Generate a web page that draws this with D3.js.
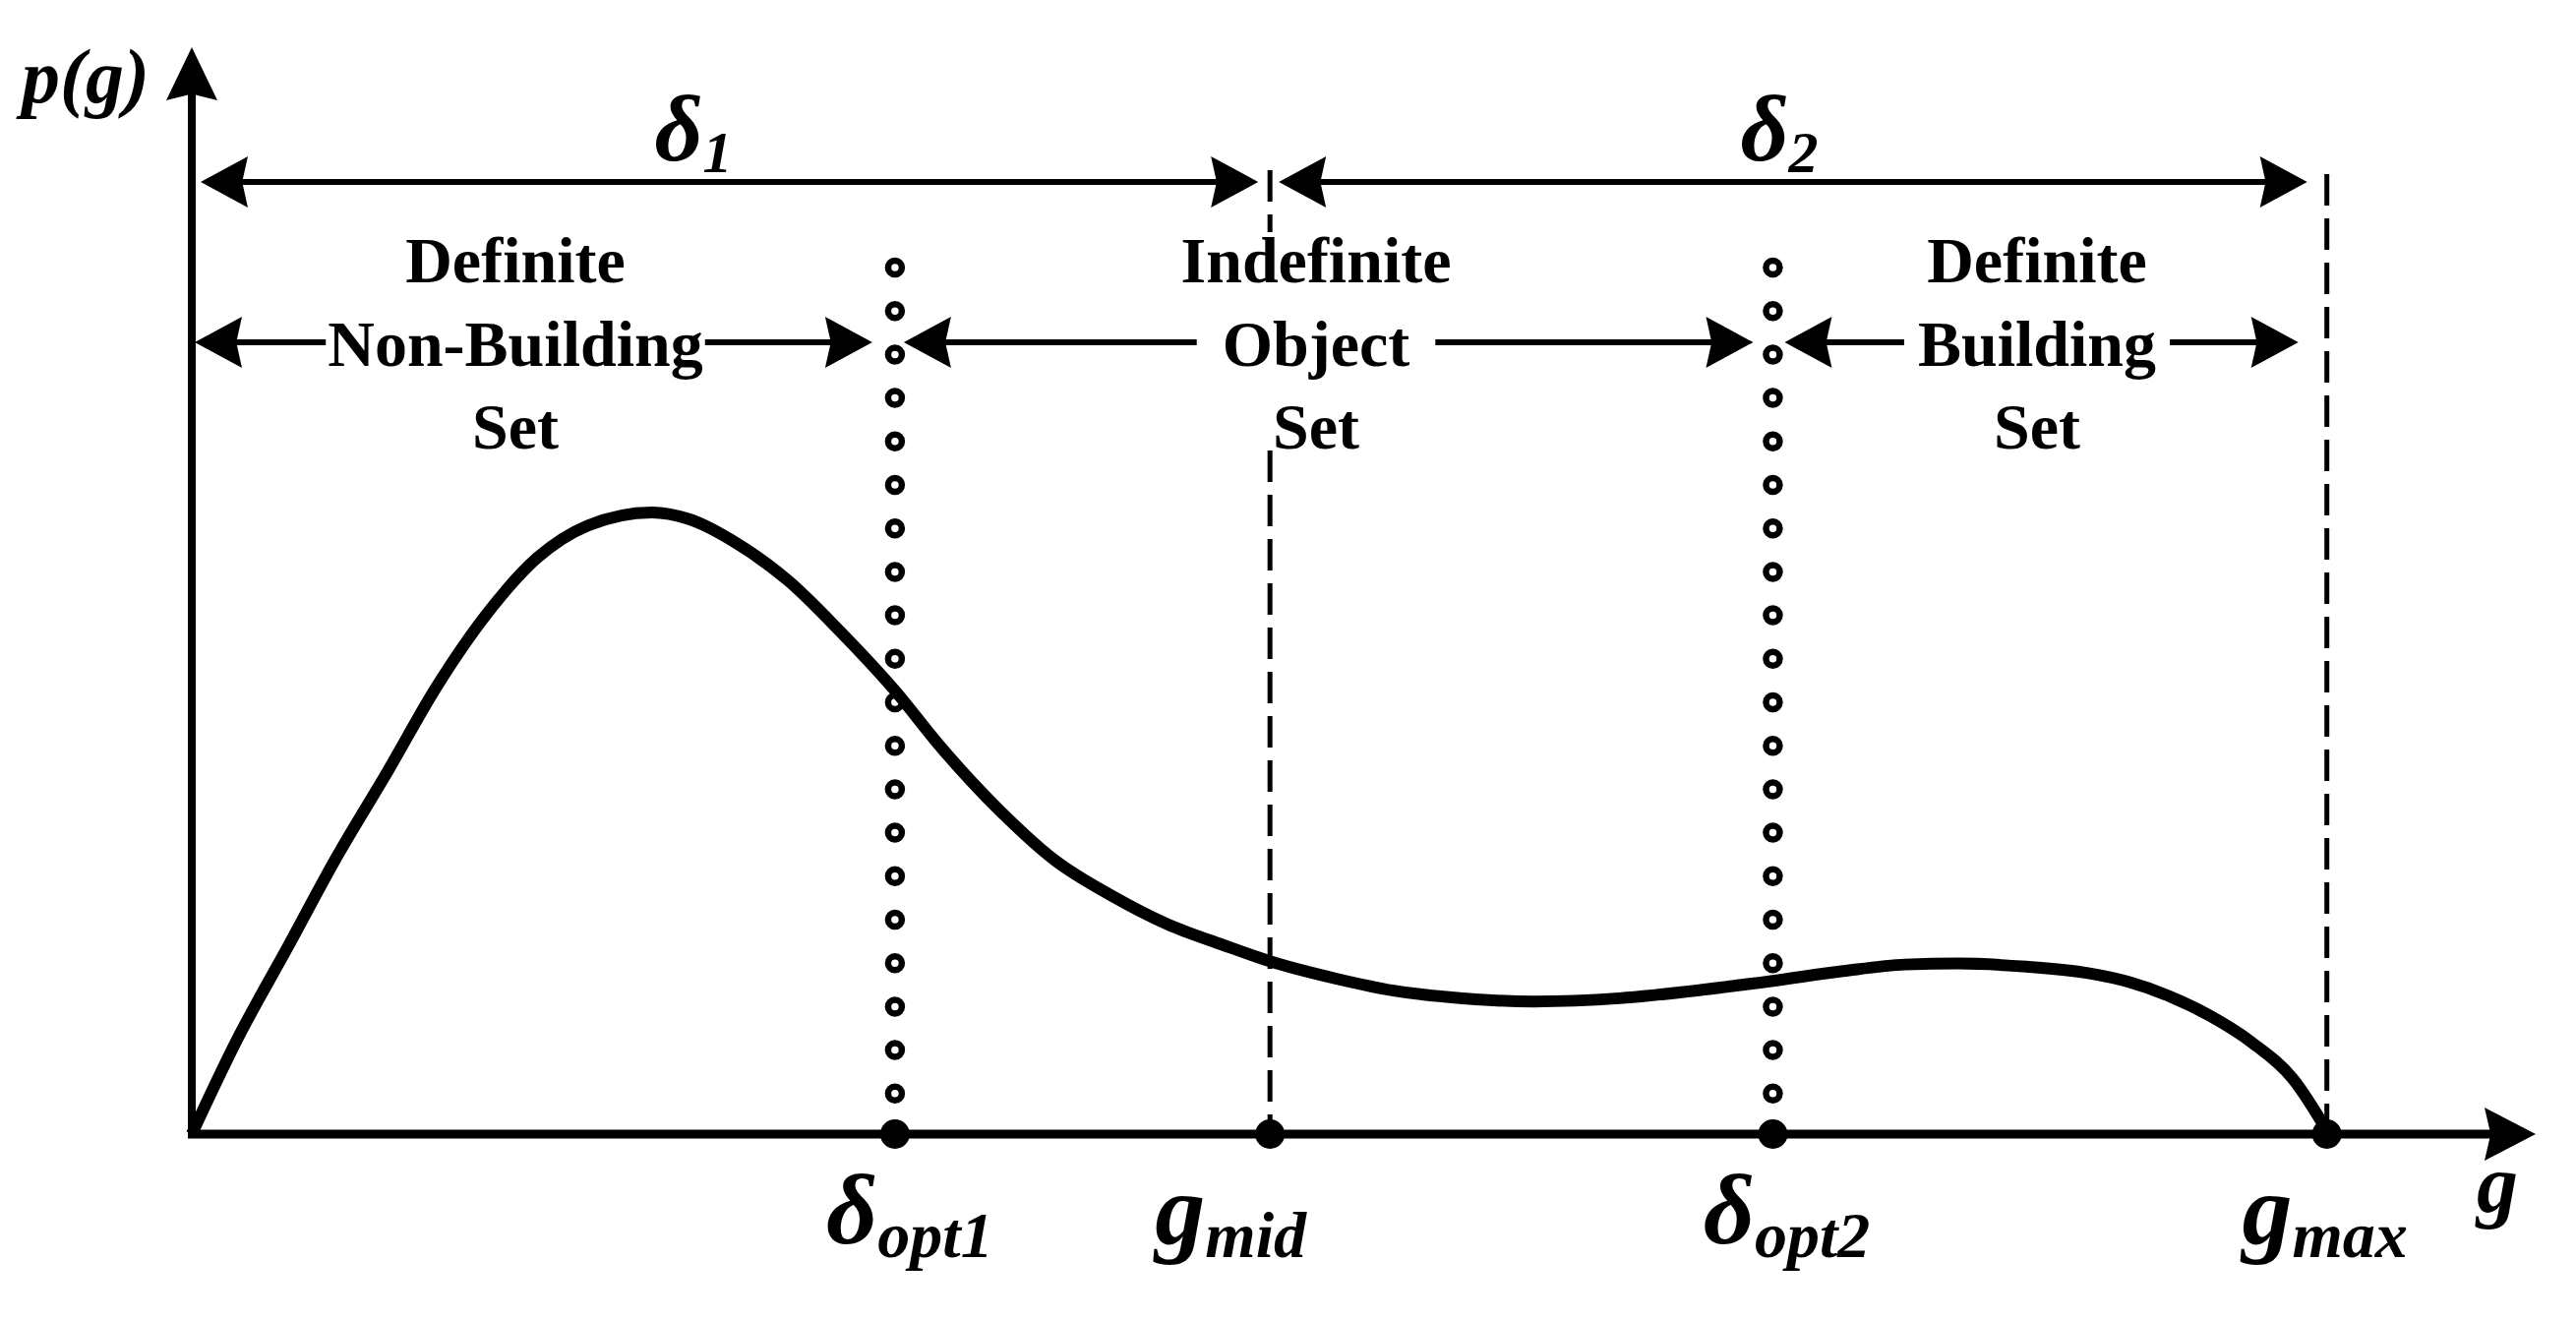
<!DOCTYPE html>
<html>
<head>
<meta charset="utf-8">
<script src="https://cdn.jsdelivr.net/npm/d3@7"></script>
<style>
  html, body { margin: 0; padding: 0; background: #fff; }
  svg { display: block; }
  text { font-family: "Liberation Serif", "Times New Roman", serif; fill: #000; }
</style>
</head>
<body>
<svg id="chart" width="2619" height="1342"></svg>
<script>
// ---------------------------------------------------------------------------
// Data (g on 0..110, p(g) on 0..100, arbitrary units).
// ---------------------------------------------------------------------------
const curveG = [0, 2.1, 4.5, 6.8, 9.2, 11.5, 13.9, 16.2, 18.6, 21.6, 23.3, 25.7, 28.0, 30.4,
  33.0, 35.2, 37.9, 40.5, 43.2, 45.8, 48.4, 50.6, 53.7, 56.4, 59.0, 63.0, 67.0, 71.0,
  74.2, 77.5, 80.4, 82.9, 86.1, 89.0, 90.9, 92.8, 94.7, 96.7, 98.6, 100.3];
const curveP = [0, 8.6, 17.2, 25.5, 33.4, 41.2, 48.0, 53.0, 56.0, 57.2, 56.6, 54.2, 50.9, 46.3,
  40.8, 35.5, 29.8, 25.2, 21.9, 19.3, 17.4, 15.9, 14.3, 13.2, 12.6, 12.2, 12.5, 13.3,
  14.1, 15.0, 15.6, 15.7, 15.4, 14.8, 14.0, 12.7, 10.9, 8.4, 5.1, 0];

// Marked thresholds on the g axis.
const markerKeys = ["opt1", "mid", "opt2", "max"];
const markerG = [33.0, 50.6, 74.2, 100.2];
const markerMain = ["δ", "g", "δ", "g"];
const markerSub = ["opt1", "mid", "opt2", "max"];

// Region labels (three text lines each) and the two range labels.
const regionLines = [
  ["Definite", "Non-Building", "Set"],
  ["Indefinite", "Object", "Set"],
  ["Definite", "Building", "Set"],
];
const rangeMain = ["δ", "δ"];
const rangeSub = ["1", "2"];

const axisLabelY = "p(g)";
const axisLabelX = "g";

// ---------------------------------------------------------------------------
const svg = d3.select("#chart");
const x = d3.scaleLinear().domain([0, 110]).range([195, 2578]);
const y = d3.scaleLinear().domain([0, 100]).range([1153, 48]);

const gOf = k => markerG[markerKeys.indexOf(k)];

svg.append("rect").attr("width", 2619).attr("height", 1342).attr("fill", "#fff");

// Filled arrowhead pointing along angle (radians), tip at (tx, ty).
function arrowHead(tx, ty, angle, len = 48, half = 26) {
  const c = Math.cos(angle), s = Math.sin(angle);
  const pt = (u, v) => [tx + u * c - v * s, ty + u * s + v * c];
  const pts = [pt(0, 0), pt(-len, -half), pt(-len * 0.88, 0), pt(-len, half)];
  svg.append("path")
    .attr("d", "M" + pts.map(p => p.join(",")).join("L") + "Z")
    .attr("fill", "#000");
}

// Horizontal double arrow with optional gap [gx0, gx1] for text.
function doubleArrow(x0, x1, yy, gap, sw = 6) {
  const segs = gap ? [[x0 + 30, gap[0]], [gap[1], x1 - 30]] : [[x0 + 30, x1 - 30]];
  segs.forEach(([a, b]) => {
    svg.append("line")
      .attr("x1", a).attr("x2", b).attr("y1", yy).attr("y2", yy)
      .attr("stroke", "#000").attr("stroke-width", sw);
  });
  arrowHead(x0, yy, Math.PI);
  arrowHead(x1, yy, 0);
}

// ---- dashed guides at g_mid and g_max ----
const dash = "32,13";
svg.append("line")
  .attr("x1", x(gOf("mid"))).attr("x2", x(gOf("mid")))
  .attr("y1", 173).attr("y2", 236)
  .attr("stroke", "#000").attr("stroke-width", 5).attr("stroke-dasharray", dash);
svg.append("line")
  .attr("x1", x(gOf("mid"))).attr("x2", x(gOf("mid")))
  .attr("y1", 458).attr("y2", y(0))
  .attr("stroke", "#000").attr("stroke-width", 5).attr("stroke-dasharray", dash);
svg.append("line")
  .attr("x1", x(gOf("max"))).attr("x2", x(gOf("max")))
  .attr("y1", 177).attr("y2", y(0))
  .attr("stroke", "#000").attr("stroke-width", 5).attr("stroke-dasharray", dash);

// ---- ring-dotted guides at the two optimal thresholds ----
const ringYs = d3.range(20).map(i => 272 + i * 44.2);
["opt1", "opt2"].forEach(k => {
  svg.append("g").selectAll("circle")
    .data(ringYs)
    .join("circle")
    .attr("cx", x(gOf(k)))
    .attr("cy", d => d)
    .attr("r", 7)
    .attr("fill", "none")
    .attr("stroke", "#000")
    .attr("stroke-width", 6.5);
});

// ---- range arrows δ1, δ2 ----
const topY = 185;
doubleArrow(x(0) + 9, x(gOf("mid")) - 12, topY, null);
doubleArrow(x(gOf("mid")) + 9, x(gOf("max")) - 20, topY, null);

const rangeCx = [705, 1809];
rangeMain.forEach((m, i) => {
  const t = svg.append("text")
    .attr("x", rangeCx[i]).attr("y", 163)
    .attr("text-anchor", "middle")
    .attr("font-size", 96).attr("font-weight", "bold").attr("font-style", "italic");
  t.append("tspan").text(m);
  t.append("tspan").attr("dy", 12).attr("font-size", 60).text(rangeSub[i]);
});

// ---- region labels with their arrows ----
const regionCx = [524, 1338, 2071];
const rowBase = [287, 372, 456];
const regionGap = [2, 26, 14];
const regionEnds = [
  [x(0) + 3, x(gOf("opt1")) - 23],
  [x(gOf("opt1")) + 9, x(gOf("opt2")) - 20],
  [x(gOf("opt2")) + 12, x(gOf("max")) - 29],
];
regionLines.forEach((lines, i) => {
  let mid = null;
  lines.forEach((s, j) => {
    const t = svg.append("text")
      .attr("x", regionCx[i]).attr("y", rowBase[j])
      .attr("text-anchor", "middle")
      .attr("font-size", 66).attr("font-weight", "bold")
      .text(s);
    if (j === 1) mid = t.node().getBBox();
  });
  const gap = [mid.x - regionGap[i], mid.x + mid.width + regionGap[i]];
  doubleArrow(regionEnds[i][0], regionEnds[i][1], 348, gap);
});

// ---- the density curve ----
const pts = curveG.map((g, i) => [x(g), y(curveP[i])]);
svg.append("path")
  .attr("d", d3.line().curve(d3.curveMonotoneX)(pts))
  .attr("fill", "none")
  .attr("stroke", "#000")
  .attr("stroke-width", 12)
  .attr("stroke-linejoin", "round");

// ---- axes ----
svg.append("line")
  .attr("x1", x(0)).attr("x2", x(0)).attr("y1", y(0) + 4).attr("y2", y(100) + 40)
  .attr("stroke", "#000").attr("stroke-width", 8);
arrowHead(x(0), y(100), -Math.PI / 2, 54, 26);
svg.append("line")
  .attr("x1", x(0) - 4).attr("x2", x(110) - 40).attr("y1", y(0)).attr("y2", y(0))
  .attr("stroke", "#000").attr("stroke-width", 9);
arrowHead(x(110), y(0), 0, 52, 27);

// ---- filled markers on the g axis ----
svg.append("g").selectAll("circle")
  .data(markerG)
  .join("circle")
  .attr("cx", d => x(d))
  .attr("cy", y(0))
  .attr("r", 15)
  .attr("fill", "#000");

// ---- marker labels ----
const markerDx = [15, -40, 14, -2];
markerMain.forEach((m, i) => {
  const t = svg.append("text")
    .attr("x", x(markerG[i]) + markerDx[i]).attr("y", 1264)
    .attr("text-anchor", "middle")
    .attr("font-size", 102).attr("font-weight", "bold").attr("font-style", "italic");
  t.append("tspan").text(m);
  t.append("tspan").attr("dy", 14).attr("font-size", 66).text(markerSub[i]);
});

// ---- axis titles ----
svg.append("text")
  .attr("x", 22).attr("y", 104)
  .attr("font-size", 78).attr("font-weight", "bold").attr("font-style", "italic")
  .text(axisLabelY);
svg.append("text")
  .attr("x", 2539).attr("y", 1232)
  .attr("text-anchor", "middle")
  .attr("font-size", 84).attr("font-weight", "bold").attr("font-style", "italic")
  .text(axisLabelX);
</script>
</body>
</html>
